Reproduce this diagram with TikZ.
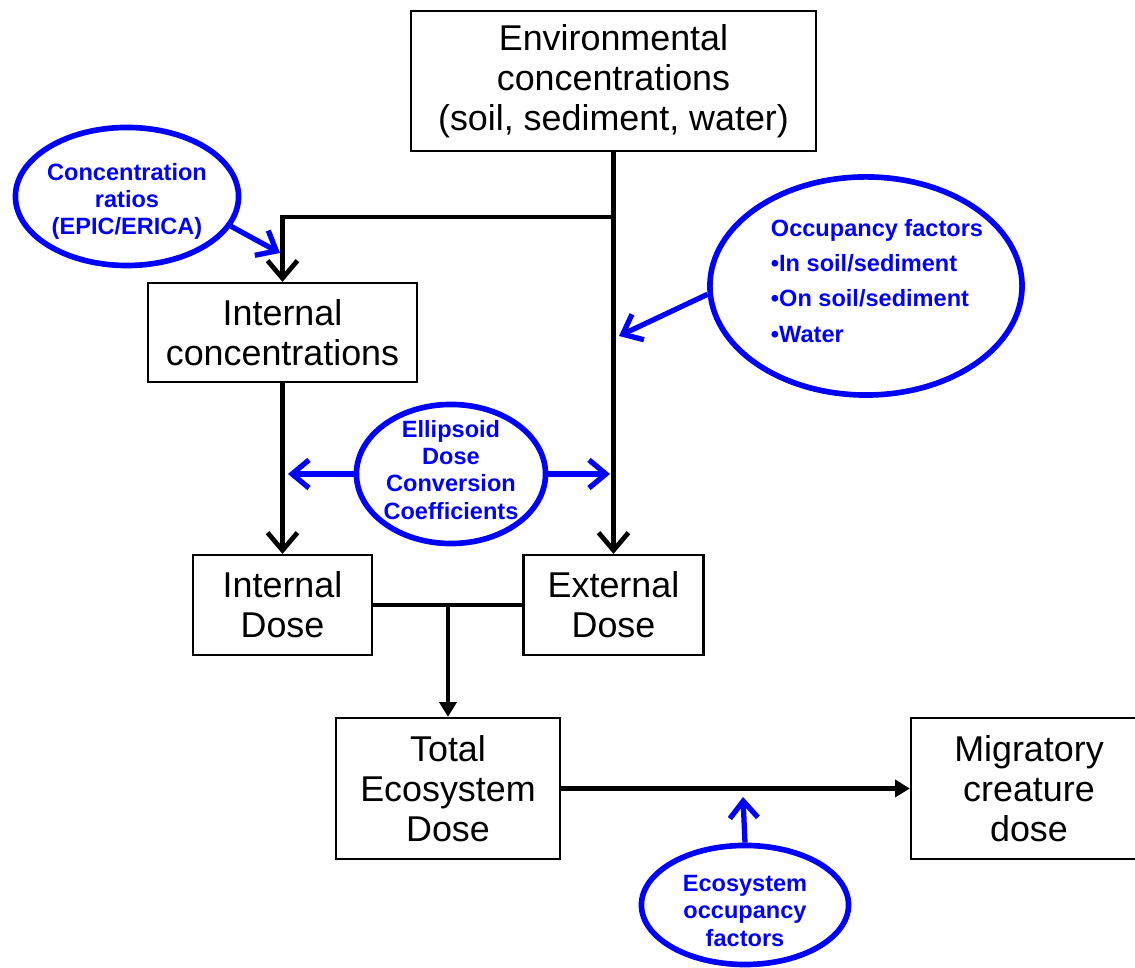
\documentclass[tikz,border=0pt]{standalone}
\usepackage{fontspec}
\setmainfont{Liberation Sans}
\usetikzlibrary{arrows.meta,shapes.geometric}
\newcommand\bluetxt{\bfseries\fontsize{6.7}{7.7}\selectfont}
\tikzset{
  block/.style={draw,line width=0.6pt,align=center,inner sep=0pt,font=\fontsize{10.2}{11.4}\selectfont},
  bubble/.style={draw=blue,ellipse,line width=1.6pt,inner sep=0pt},
  flow/.style={line width=1.35pt,-{Straight Barb[length=5pt,width=8.5pt]}},
  flowtri/.style={line width=1.35pt,-{Triangle[length=4.2pt,width=4.8pt]}},
  link/.style={line width=1.35pt},
  blueflow/.style={blue,line width=1.5pt,-{Straight Barb[length=4.8pt,width=8pt]}}
}
\begin{document}
\begin{tikzpicture}[x=0.01cm,y=-0.01cm]
  \useasboundingbox (0,0) rectangle (1135,968);
  % boites
  \node[block,minimum width=4.05cm,minimum height=1.40cm] (env) at (613.5,81) {Environmental\\concentrations\\(soil, sediment, water)};
  \node[block,minimum width=2.69cm,minimum height=0.99cm] (intc) at (282.5,332.5) {Internal\\concentrations};
  \node[block,minimum width=1.79cm,minimum height=1.00cm] (intd) at (282.5,605) {Internal\\Dose};
  \node[block,minimum width=1.80cm,minimum height=1.00cm] (extd) at (613.5,605) {External\\Dose};
  \node[block,minimum width=2.24cm,minimum height=1.41cm] (total) at (448,788.5) {Total\\Ecosystem\\Dose};
  \node[block,minimum width=2.36cm,minimum height=1.41cm] (migr) at (1029,788.5) {Migratory\\creature\\dose};
  % bulles
  \node[bubble,minimum width=2.23cm,minimum height=1.38cm,label={[align=center,font=\bluetxt,text=blue,yshift=-0.05cm]center:Concentration\\ratios\\(EPIC/ERICA)}] (conc) at (127,196.5) {};
  \node[bubble,minimum width=3.12cm,minimum height=2.18cm,label={[align=left,font=\bfseries\fontsize{6.7}{10}\selectfont,text=blue,xshift=0.11cm,yshift=0.05cm]center:Occupancy factors\\•In soil/sediment\\•On soil/sediment\\•Water}] (occ) at (866,286) {};
  \node[bubble,minimum width=1.89cm,minimum height=1.39cm,label={[align=center,font=\bluetxt,text=blue,yshift=0.04cm]center:Ellipsoid\\Dose\\Conversion\\Coefficients}] (dcc) at (451,474) {};
  \node[bubble,minimum width=2.07cm,minimum height=1.19cm,label={[align=center,font=\bluetxt,text=blue,yshift=-0.06cm]center:Ecosystem\\occupancy\\factors}] (eco) at (745,905) {};
  % connecteurs
  \coordinate (split) at (613.5,217);
  \coordinate (join) at (448,605);
  \draw[flow] (env.south) -- (extd.north);
  \draw[flow] (split) -| (intc.north);
  \draw[flow] (intc.south) -- (intd.north);
  \draw[link] (intd.east) -- (extd.west);
  \draw[flowtri] (join) -- (total.north);
  \draw[flowtri] (total.east) -- (migr.west);
  % fleches bleues
  \coordinate (ci) at (280,253);
  \coordinate (oc) at (619,336);
  \coordinate (dl) at (288,474);
  \coordinate (dr) at (610,474);
  \coordinate (eo) at (743,797);
  \draw[blueflow] (conc.-16) -- (ci);
  \draw[blueflow] (occ.183) -- (oc);
  \draw[blueflow] (dcc.west) -- (dl);
  \draw[blueflow] (dcc.east) -- (dr);
  \draw[blueflow] (eco.north) -- (eo);
\end{tikzpicture}
\end{document}
